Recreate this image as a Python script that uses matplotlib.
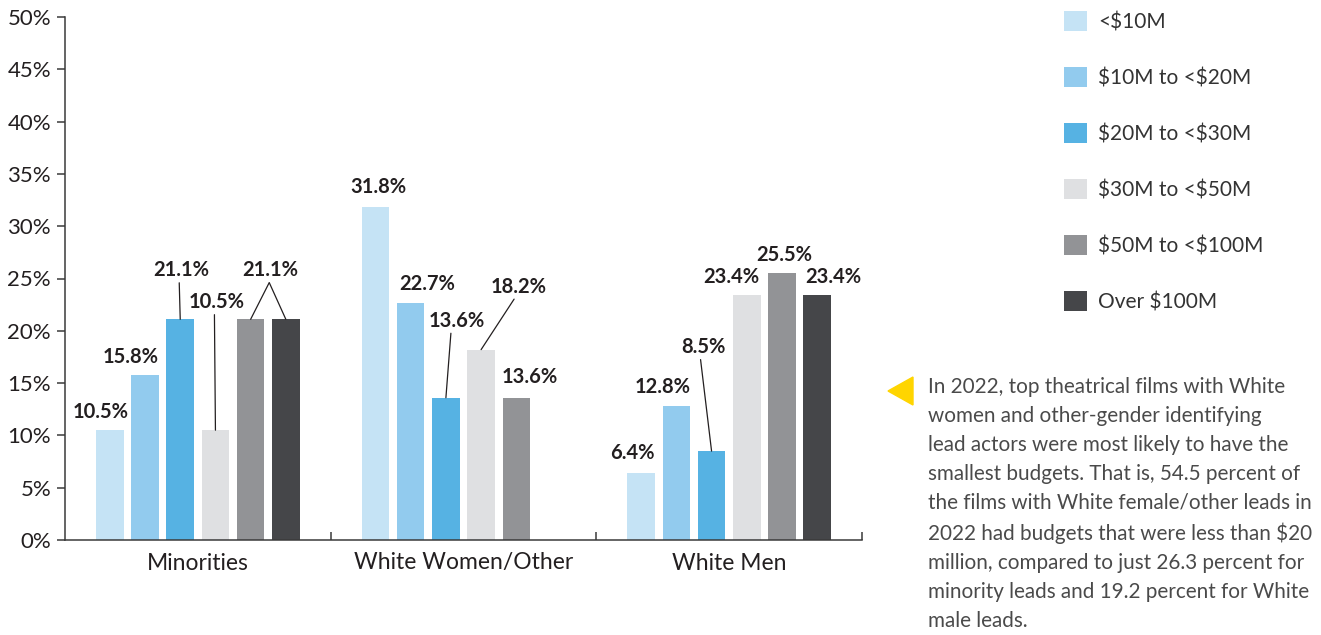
import numpy as np
import matplotlib.pyplot as plt
from matplotlib.patches import Polygon

plt.rcParams['font.family'] = ['Lato', 'DejaVu Sans']
plt.rcParams['text.parse_math'] = False

categories = ['Minorities', 'White Women/Other', 'White Men']
budget_bins = ['<$10M', '$10M to <$20M', '$20M to <$30M',
               '$30M to <$50M', '$50M to <$100M', 'Over $100M']

under_10m = [10.5, 31.8, 6.4]
from_10m_to_20m = [15.8, 22.7, 12.8]
from_20m_to_30m = [21.1, 13.6, 8.5]
from_30m_to_50m = [10.5, 18.2, 23.4]
from_50m_to_100m = [21.1, 13.6, 25.5]
over_100m = [21.1, 0.0, 23.4]

series = [under_10m, from_10m_to_20m, from_20m_to_30m,
          from_30m_to_50m, from_50m_to_100m, over_100m]
colors = ['#c5e3f5', '#92cbee', '#56b2e3', '#dfe0e2', '#929396', '#454649']

note = ("In 2022, top theatrical films with White\n"
        "women and other-gender identifying\n"
        "lead actors were most likely to have the\n"
        "smallest budgets. That is, 54.5 percent of\n"
        "the films with White female/other leads in\n"
        "2022 had budgets that were less than $20\n"
        "million, compared to just 26.3 percent for\n"
        "minority leads and 19.2 percent for White\n"
        "male leads.")

# label placement in pixels from the top-centre of each bar:
# (series, category): (dx, dy, leader_dx) -- leader_dx None means no leader line
label_pos = {
    (0, 0): (-9, -18, None), (1, 0): (-14, -18, None),
    (2, 0): (1, -49, -2), (3, 0): (1, -128, -2),
    (4, 0): (19.5, -49, -1), (5, 0): (-15.5, -49, -1),
    (0, 1): (3, -20, None), (1, 1): (16, -19, None),
    (2, 1): (11, -77, -6), (3, 1): (38, -63, -5), (4, 1): (13, -21, None),
    (0, 2): (-9, -20, None), (1, 2): (-14, -19, None),
    (2, 2): (-8, -104, -3), (3, 2): (-15, -18, None),
    (4, 2): (2, -18, None), (5, 2): (16, -18, None),
}
# the second 21.1% bar in Minorities shares the label of its neighbour
shared_only = {(5, 0)}

ink = '#231f20'
fig = plt.figure(figsize=(13.21, 6.35), dpi=100)
ax = fig.add_axes([65 / 1321, 95 / 635, 797 / 1321, 523 / 635])

x = np.arange(len(categories))
step, width = 0.1325, 0.1035
bars = []
for j, (vals, col, name) in enumerate(zip(series, colors, budget_bins)):
    pos = x + (j - 2.5) * step
    b = ax.bar(pos, vals, width=width, color=col, label=name, zorder=2)
    bars.append(b)
    for i, v in enumerate(vals):
        if v == 0:
            continue
        dx, dy, ldx = label_pos[(j, i)]
        if (j, i) not in shared_only:
            ax.annotate(f'{v:.1f}%', xy=(pos[i], v), xytext=(dx, -dy),
                        textcoords='offset pixels', ha='center', va='center',
                        fontsize=14.5, fontweight='bold', color=ink)
        if ldx is not None:
            ax.annotate('', xy=(pos[i], v), xytext=(dx + ldx, -dy - 12.5),
                        textcoords='offset pixels',
                        arrowprops=dict(arrowstyle='-', color=ink, lw=0.9,
                                        shrinkA=0, shrinkB=0))

ax.set_xlim(-0.5, 2.5)
ax.set_ylim(0, 50)
ax.set_yticks(np.arange(0, 51, 5))
ax.set_yticklabels([f'{t}%' for t in range(0, 51, 5)])
ax.set_xticks(x)
ax.set_xticklabels(categories)
ax.set_xticks([0.5, 1.5, 2.5], minor=True)
ax.tick_params(axis='x', which='major', length=0, pad=9, labelsize=16.5, labelcolor=ink)
ax.tick_params(axis='x', which='minor', direction='in', length=6, width=1.1, color='#3a3a3a')
ax.tick_params(axis='y', direction='out', length=6, width=1.1, color='#3a3a3a',
               labelsize=16, labelcolor=ink, pad=4)
for s in ['top', 'right']:
    ax.spines[s].set_visible(False)
for s in ['left', 'bottom']:
    ax.spines[s].set_color('#3a3a3a')
    ax.spines[s].set_linewidth(1.1)

fig.legend(handles=bars, labels=budget_bins, loc='upper left',
           bbox_to_anchor=(1064 / 1321, 1 - 11 / 635), frameon=False,
           fontsize=15, labelcolor='#333333', handlelength=1.1, handleheight=1.1,
           handletextpad=0.55, labelspacing=1.68, borderpad=0, borderaxespad=0)

# yellow pointer and the note beside it
fig.patches.append(Polygon([(888 / 1321, 1 - 391 / 635), (913 / 1321, 1 - 377 / 635),
                            (913 / 1321, 1 - 405 / 635)], closed=True,
                           transform=fig.transFigure, color='#ffd500'))
fig.text(928 / 1321, 1 - 377 / 635, note, ha='left', va='top', fontsize=14.9,
         color='#4a4a4a', linespacing=1.56)

fig.savefig('out.png', dpi=100)
